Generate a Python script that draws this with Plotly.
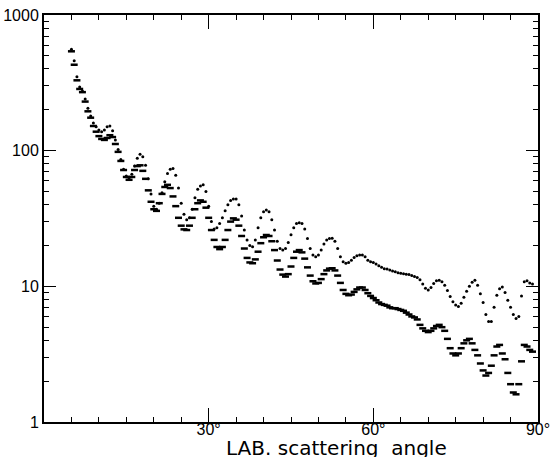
import plotly.graph_objects as go

# LAB scattering angle grid (degrees), 0.5 deg steps from 5 to 89
angles = [5.0 + 0.5 * i for i in range(169)]

upper = [
    560, 460, 350, 295, 275, 240, 205, 180, 160, 150,
    142, 138, 142, 150, 152, 140, 120, 102, 86, 73,
    65, 63, 67, 77, 88, 94, 90, 78, 62, 48,
    39, 37, 41, 49, 59, 68, 73, 74, 66, 53,
    41, 34, 31, 32, 37, 45, 52, 55, 56, 50,
    39, 30, 26.5, 27, 29, 32, 36, 40, 43, 44,
    44, 40, 33, 26, 22, 20, 19.6, 22, 27, 32,
    35.5, 36.5, 35.5, 31, 26, 21.5, 19, 18.5, 19, 21,
    24, 27, 29, 29.4, 29, 26.5, 22.5, 19, 17, 16.5,
    17, 18.5, 20.5, 22, 22.5, 22.6, 21.5, 19, 16.5, 15.2,
    14.8, 15, 15.6, 16.3, 16.8, 17, 17, 16.5, 15.6, 15.2,
    15, 14.6, 14.2, 13.8, 13.5, 13.4, 13.2, 13, 12.8, 12.6,
    12.5, 12.4, 12.3, 12.2, 12.0, 11.8, 11.6, 11.2, 10.4, 9.7,
    9.4, 9.8, 10.5, 11.0, 11.1, 10.8, 10.2, 9.3, 8.4, 7.7,
    7.3, 7.1, 7.5, 8.3, 9.2, 10.0, 10.7, 11.1, 10.2, 8.8,
    7.6, 6.2, 5.5, 5.5, 7.0, 8.6, 9.6, 9.9, 9.0, 7.9,
    7.0, 6.2, 5.8, 6.0, 8.5, 10.8, 11.0, 10.6, 10.4,
]

lower = [
    540, 430, 330, 285, 270, 230, 195, 175, 152, 138,
    128, 122, 120, 124, 130, 126, 112, 98, 84, 72,
    64, 61, 64, 72, 77, 78, 71, 62, 51, 42,
    37, 36, 41, 48, 54, 56, 53, 46, 39, 32,
    28, 26.3, 26, 28, 32, 37, 41, 43, 42, 38,
    32, 26, 22, 19.5, 18.8, 19.5, 22, 26, 30, 31.7,
    31, 28, 23.5, 19, 16.2, 15, 14.8, 15.8, 18, 20.8,
    23, 23.9, 23.5, 21.5, 18.5, 15.5, 13.3, 12.2, 11.8, 12.3,
    14, 16.2, 18, 18.5, 17.8, 16, 13.8, 12, 10.9, 10.5,
    10.6, 11.3, 12.3, 13.1, 13.5, 13.6, 13.1, 12, 10.6, 9.4,
    8.8, 8.6, 8.7, 9.1, 9.5, 9.8, 9.8, 9.4, 8.9, 8.5,
    8.2, 7.9, 7.6, 7.4, 7.3, 7.2, 7.0, 6.9, 6.9, 6.8,
    6.7, 6.6, 6.4, 6.2, 6.0, 5.9, 5.7, 5.2, 4.9, 4.7,
    4.6, 4.7, 4.9, 5.1, 5.2, 5.0, 4.7, 4.1, 3.5, 3.2,
    3.1, 3.2, 3.5, 3.8, 4.0, 4.1, 3.8, 3.4, 3.1, 2.7,
    2.4, 2.2, 2.3, 2.6, 3.1, 3.6, 3.7, 3.2, 2.9, 2.3,
    1.9, 1.65, 1.6, 1.9, 2.8, 3.7, 3.6, 3.4, 3.3,
]

x_tickvals = [30, 60, 90]
x_ticktext = ["30°", "60°", "90°"]
y_tickvals = [1, 10, 100, 1000]
y_ticktext = ["1", "10", "100", "1000"]
y_minor = [m * d for d in (1, 10, 100) for m in range(2, 10)]

fig = go.Figure()
fig.add_trace(go.Scatter(
    x=angles, y=upper, mode="markers",
    marker=dict(symbol="circle", size=3, color="black"),
    showlegend=False, cliponaxis=False,
))
fig.add_trace(go.Scatter(
    x=angles, y=lower, mode="markers",
    marker=dict(symbol="line-ew", size=5, color="black",
                line=dict(width=2.5, color="black")),
    showlegend=False, cliponaxis=False,
))

font = dict(family="Liberation Sans, Arial, sans-serif", size=16, color="black")

fig.update_layout(
    width=553, height=457,
    margin=dict(l=44, r=15, t=15, b=35, autoexpand=False),
    paper_bgcolor="white", plot_bgcolor="white",
    font=font,
    xaxis=dict(
        range=[0, 90], showgrid=False, zeroline=False, automargin=False,
        showline=True, linecolor="black", linewidth=2, mirror="ticks",
        tickvals=x_tickvals, ticktext=x_ticktext,
        ticks="inside", ticklen=14, tickwidth=1, tickcolor="black",
        ticklabelstandoff=-8,
        minor=dict(dtick=5, tick0=0, ticks="inside", ticklen=5, tickcolor="black", tickwidth=1),
        tickfont=font,
    ),
    yaxis=dict(
        type="log", range=[0, 3], showgrid=False, zeroline=False, automargin=False,
        showline=True, linecolor="black", linewidth=2, mirror="ticks",
        tickvals=y_tickvals, ticktext=y_ticktext,
        ticks="inside", ticklen=12, tickwidth=1, tickcolor="black",
        minor=dict(tickvals=y_minor, ticks="inside", ticklen=5, tickcolor="black", tickwidth=1),
        tickfont=font,
    ),
    annotations=[dict(
        text="LAB. scattering  angle", xref="paper", yref="paper",
        x=0.593, y=-0.064, xanchor="center", yanchor="middle",
        showarrow=False,
        font=dict(family="DejaVu Sans, sans-serif", size=20, color="black"),
    )],
)

fig.write_html("out.html", config={"displayModeBar": False},
               post_script="document.body.style.margin='0';")
